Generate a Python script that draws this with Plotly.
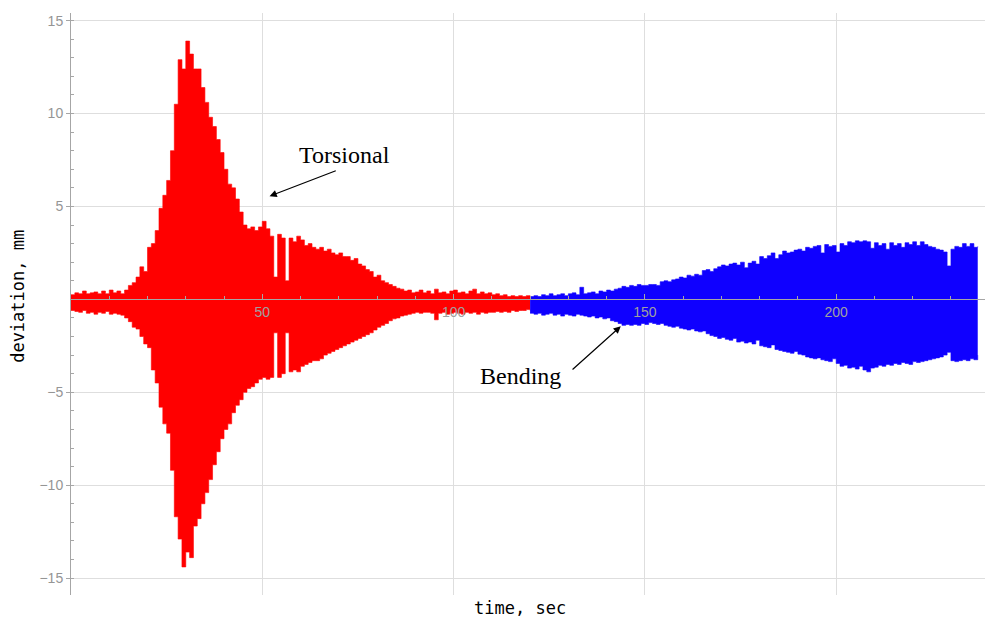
import plotly.graph_objects as go

# Sampling times (s) for the two recorded segments
torsional_t = list(range(0, 121))
bending_t = list(range(120, 238))

# Upper / lower envelope of the torsional oscillation (mm)
torsional_hi = [
    0.25, 0.35, 0.3, 0.45, 0.3, 0.35, 0.4, 0.3, 0.45, 0.3,
    0.5, 0.35, 0.45, 0.3, 0.5, 0.75, 0.9, 1.2, 1.75, 1.5,
    2.8, 3.0, 3.7, 4.9, 5.6, 6.4, 8.0, 10.5, 12.9, 12.4,
    13.9, 13.2, 12.4, 12.4, 11.4, 10.6, 9.8, 9.3, 8.6, 7.9,
    7.0, 6.2, 6.0, 5.4, 4.7, 4.0, 3.8, 3.9, 3.7, 3.9,
    4.2, 3.8, 3.4, 1.2, 3.5, 3.3, 1.0, 3.3, 3.1, 3.4,
    3.2, 2.9, 3.0, 2.8, 2.7, 2.8, 2.6, 2.7, 2.5, 2.4,
    2.5, 2.3, 2.3, 2.1, 2.2, 1.9, 1.8, 1.6, 1.5, 1.2,
    1.3, 1.0, 0.9, 0.8, 0.7, 0.6, 0.55, 0.45, 0.5, 0.35,
    0.4, 0.5, 0.35, 0.45, 0.3, 0.55, 0.35, 0.4, 0.3, 0.45,
    0.5, 0.35, 0.4, 0.3, 0.45, 0.55, 0.3, 0.4, 0.3, 0.35,
    0.25, 0.3, 0.2, 0.25, 0.15, 0.2, 0.15, 0.2, 0.15, 0.2,
    0.15,
]
torsional_lo = [
    -0.6, -0.65, -0.7, -0.6, -0.75, -0.7, -0.8, -0.7, -0.75, -0.65,
    -0.8, -0.75, -0.8, -0.85, -1.0, -1.2, -1.5, -1.6, -2.0, -2.4,
    -2.6, -3.8, -4.5, -5.8, -6.7, -7.2, -9.2, -11.7, -12.9, -14.4,
    -13.6, -13.9, -12.2, -11.8, -11.0, -10.4, -9.7, -8.9, -8.2, -7.5,
    -7.0, -6.7, -6.1, -5.7, -5.4, -5.0, -4.8, -4.7, -4.5, -4.3,
    -4.2, -4.3, -4.2, -1.8, -4.2, -4.0, -1.8, -3.9, -3.8, -3.9,
    -3.6, -3.5, -3.4, -3.3, -3.3, -3.2, -3.0, -2.9, -2.8, -2.7,
    -2.6, -2.5, -2.4, -2.3, -2.2, -2.1, -2.0, -1.9, -1.8, -1.65,
    -1.5, -1.4, -1.3, -1.15, -1.05, -1.0, -0.9, -0.85, -0.8, -0.75,
    -0.7, -0.75, -0.7, -0.7, -0.75, -1.1, -0.75, -0.7, -0.8, -0.75,
    -0.7, -0.75, -0.8, -0.7, -0.75, -0.7, -0.8, -0.7, -0.75, -0.7,
    -0.7, -0.65, -0.7, -0.65, -0.7, -0.6, -0.65, -0.6, -0.6, -0.55,
    -0.6,
]

# Upper / lower envelope of the bending oscillation (mm)
bending_hi = [
    0.15, 0.2, 0.15, 0.25, 0.2, 0.3, 0.2, 0.25, 0.3, 0.2,
    0.3, 0.35, 0.25, 0.65, 0.3, 0.35, 0.4, 0.3, 0.45, 0.4,
    0.5, 0.45, 0.55, 0.6, 0.7, 0.65, 0.75, 0.7, 0.8, 0.75,
    0.75, 0.8, 0.8, 0.75, 0.95, 1.0, 0.95, 1.05, 1.1, 1.2,
    1.15, 1.3, 1.25, 1.35, 1.3, 1.55, 1.6, 1.5, 1.65, 1.75,
    1.85, 1.8, 1.9, 1.95, 1.85, 2.0, 1.7, 1.95, 2.05, 1.9,
    2.3, 2.2, 2.35, 2.5, 2.2, 2.4, 2.6, 2.5, 2.55, 2.65,
    2.7, 2.6, 2.8, 2.75, 2.85, 2.9, 2.5, 2.95, 2.85, 2.9,
    2.55, 3.0, 2.9, 3.1, 3.05, 3.15, 3.1, 3.15, 3.1, 2.75,
    3.05, 2.9, 3.0, 2.7, 3.05, 2.9, 3.0, 2.8, 3.05, 2.95,
    3.1, 2.9, 3.1, 2.95, 2.85, 2.8, 2.7, 2.65, 2.55, 1.8,
    2.7, 2.85, 2.8, 3.0, 2.85, 3.0, 2.8, 2.85,
]
bending_lo = [
    -0.75, -0.8, -0.75, -0.85, -0.8, -0.75, -0.85, -0.8, -0.9, -0.8,
    -0.85, -0.9, -0.8, -0.85, -0.9, -0.95, -0.9, -1.0, -0.95, -1.05,
    -1.0, -1.15, -1.2, -1.3, -1.4, -1.35, -1.4, -1.35, -1.4, -1.3,
    -1.35, -1.25, -1.3, -1.35, -1.3, -1.4, -1.45, -1.5, -1.45, -1.55,
    -1.6, -1.65, -1.6, -1.7, -1.75, -1.7, -1.85, -1.95, -2.0, -2.1,
    -2.05, -2.15, -2.2, -2.1, -2.3, -2.25, -2.35, -2.3, -2.4, -2.2,
    -2.5, -2.55, -2.6, -2.45, -2.7, -2.75, -2.8, -2.85, -2.9, -2.8,
    -2.95, -3.0, -3.1, -3.15, -3.2, -3.15, -3.25, -3.3, -3.35, -3.2,
    -3.45, -3.6, -3.55, -3.7, -3.65, -3.75, -3.6, -3.8, -3.9, -3.7,
    -3.65, -3.55, -3.6, -3.5, -3.55, -3.45, -3.5, -3.4, -3.45, -3.5,
    -3.35, -3.4, -3.35, -3.3, -3.25, -3.2, -3.15, -3.1, -3.0, -2.85,
    -3.3, -3.35, -3.3, -3.25, -3.3, -3.2, -3.25, -3.0,
]

x_ticks = [50, 100, 150, 200]
y_ticks = [-15, -10, -5, 5, 10, 15]
y_ticktext = ["\u221215", "\u221210", "\u22125", "5", "10", "15"]

RED = "#ff0000"
BLUE = "#0f00ff"
AXIS_GREY = "#a6a6a6"
GRID_GREY = "#dedede"
LABEL_GREY = "#a0a0a0"

Y_MIN, Y_MAX = -15.91, 15.41
X_MAX = 238.9

fig = go.Figure()


def add_band(t, lo, hi, color):
    fig.add_trace(go.Scatter(
        x=t, y=lo, mode="lines", line=dict(color=color, width=0.6, shape="hv"),
        hoverinfo="skip", showlegend=False,
    ))
    fig.add_trace(go.Scatter(
        x=t, y=hi, mode="lines", line=dict(color=color, width=0.6, shape="hv"),
        fill="tonexty", fillcolor=color, hoverinfo="skip", showlegend=False,
    ))


add_band(torsional_t, torsional_lo, torsional_hi, RED)
add_band(bending_t, bending_lo, bending_hi, BLUE)

zero_pos = (0 - Y_MIN) / (Y_MAX - Y_MIN)

fig.update_layout(
    width=985,
    height=622,
    margin=dict(l=71, r=0, t=13, b=27),
    paper_bgcolor="white",
    plot_bgcolor="white",
    xaxis=dict(
        range=[0, X_MAX],
        anchor="free",
        position=zero_pos,
        showline=True,
        linecolor=AXIS_GREY,
        linewidth=1,
        tickmode="array",
        tickvals=x_ticks,
        ticktext=[str(v) for v in x_ticks],
        ticks="inside",
        ticklen=5,
        tickcolor=AXIS_GREY,
        tickfont=dict(family="Liberation Sans, Arial, sans-serif", size=14, color=LABEL_GREY),
        showgrid=True,
        gridcolor=GRID_GREY,
        gridwidth=1,
        zeroline=False,
        layer="above traces",
        minor=dict(tickmode="linear", tick0=0, dtick=10, ticks="inside",
                   ticklen=3, tickcolor=AXIS_GREY, showgrid=False),
    ),
    yaxis=dict(
        range=[Y_MIN, Y_MAX],
        showline=True,
        linecolor=AXIS_GREY,
        linewidth=1,
        tickmode="array",
        tickvals=y_ticks,
        ticktext=y_ticktext,
        ticks="outside",
        ticklen=4,
        tickcolor=AXIS_GREY,
        tickfont=dict(family="Liberation Sans, Arial, sans-serif", size=14, color="#959595"),
        showgrid=True,
        gridcolor=GRID_GREY,
        gridwidth=1,
        zeroline=False,
        layer="above traces",
        minor=dict(tickmode="linear", tick0=0, dtick=1, ticks="inside",
                   ticklen=3, tickcolor=AXIS_GREY, showgrid=False),
    ),
)

mono = dict(family="DejaVu Sans Mono, monospace", size=17, color="black")
serif = dict(family="Liberation Serif, Times New Roman, serif", size=24, color="black")

annotations = [
    dict(text="time, sec", xref="paper", yref="paper", x=0.491, y=-0.022,
         xanchor="center", yanchor="middle", showarrow=False, font=mono),
    dict(text="deviation, mm", xref="paper", yref="paper", x=-0.058, y=0.514,
         xanchor="center", yanchor="middle", textangle=-90, showarrow=False, font=mono),
    dict(text="Torsional", xref="x", yref="y", x=71.6, y=7.75,
         xanchor="center", yanchor="middle", showarrow=False, font=serif),
    dict(text="Bending", xref="x", yref="y", x=117.4, y=-4.15,
         xanchor="center", yanchor="middle", showarrow=False, font=serif),
    dict(text="", xref="x", yref="y", x=51.9, y=5.55, axref="x", ayref="y",
         ax=69.6, ay=6.95, showarrow=True, arrowhead=2, arrowsize=1.2,
         arrowwidth=1.2, arrowcolor="black"),
    dict(text="", xref="x", yref="y", x=143.7, y=-1.45, axref="x", ayref="y",
         ax=130.7, ay=-3.85, showarrow=True, arrowhead=2, arrowsize=1.2,
         arrowwidth=1.2, arrowcolor="black"),
]
fig.update_layout(annotations=annotations)

fig.write_html("out.html")
